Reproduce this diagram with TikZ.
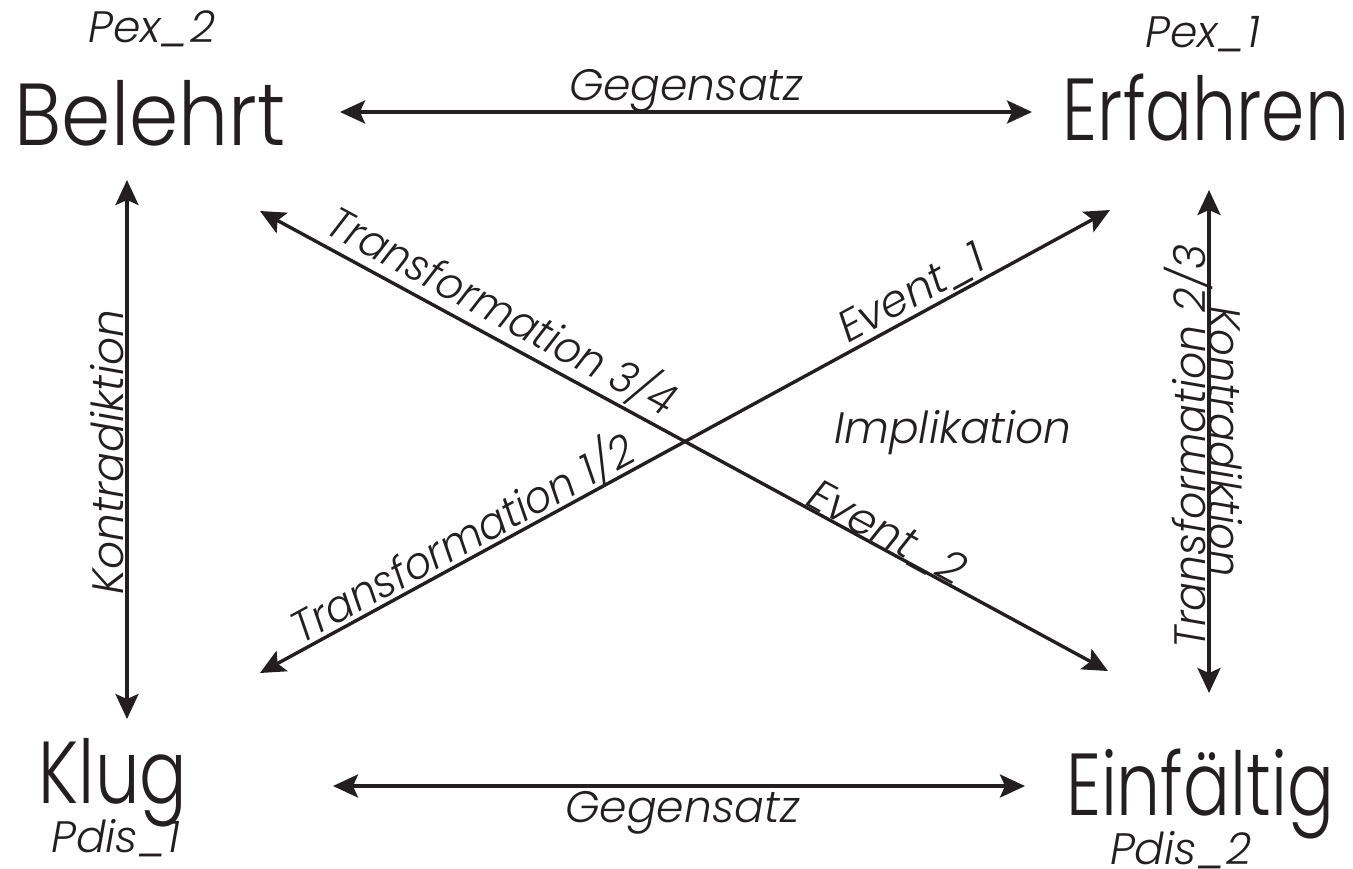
\documentclass[tikz,border=0pt]{standalone}
\usepackage{fontspec}
\setmainfont{Poppins}[UprightFont={* Light},ItalicFont={* Light Italic}]
\usetikzlibrary{arrows.meta}
\definecolor{ink}{HTML}{231F20}
\begin{document}
\begin{tikzpicture}[x=0.5pt,y=-0.5pt,
  big/.style={font=\fontsize{44}{44}\selectfont, text=ink, inner sep=0pt, anchor=base},
  sub/.style={font=\fontsize{22}{22}\selectfont\itshape, text=ink, inner sep=0pt, anchor=base},
  lab/.style={font=\fontsize{22}{22}\selectfont\itshape, text=ink, inner sep=0pt, text depth=0pt, sloped},
  tip/.style={Stealth[length=12.5pt,width=11.5pt,inset=2.5pt]},
  arr/.style={draw=ink, line width=1.7pt, {Stealth[length=12.5pt,width=11.5pt,inset=2.5pt]}-{Stealth[length=12.5pt,width=11.5pt,inset=2.5pt]}}]
\useasboundingbox (0,0) rectangle (1353,868);
% corner nodes
\node[big, xscale=0.9] (B) at (150,145) {Belehrt};
\node[sub] (p2) at (152,42) {Pex\_2};
\node[big, xscale=0.79] (E) at (1206,140) {Erfahren};
\node[sub] (p1) at (1203,47) {Pex\_1};
\node[big, xscale=0.8] (K) at (113,803) {Klug};
\node[sub] (pd1) at (116,852) {Pdis\_1};
\node[big, xscale=0.79] (F) at (1200,815) {Einfältig};
\node[sub] (pd2) at (1181,864) {Pdis\_2};
\node[sub] (imp) at (953,443) {Implikation};
% connector ends
\coordinate (Bh) at (340,112);
\coordinate (Eh) at (1032,112);
\coordinate (Kh) at (333,786);
\coordinate (Fh) at (1025,786);
\coordinate (Bv) at (127,180);
\coordinate (Kv) at (127,719);
\coordinate (Ev) at (1209,190);
\coordinate (Fv) at (1209,693);
\coordinate (Bd) at (260,211);
\coordinate (Fd) at (1108,671);
\coordinate (Kd) at (260,673);
\coordinate (Ed) at (1110,210);
% connectors
\draw[arr] (Bh) -- node[lab, above=5pt] {Gegensatz} (Eh);
\draw[arr] (Kh) -- node[lab, pos=0.505, below=2pt] {Gegensatz} (Fh);
\draw[arr] (Kv) -- node[lab, pos=0.495, above=1pt] {Kontradiktion} (Bv);
\draw[arr] (Fv) -- node[lab, pos=0.49, above=1pt, xscale=0.97] {Transformation 2/3} (Ev);
\path (Ev) -- node[lab, pos=0.5, above=0pt, xscale=0.95] {Kontradiktion} (Fv);
\draw[arr] (Bd) -- node[lab, pos=0.27, above=5pt, xscale=0.93] {Transformation 3/4}
                   node[lab, pos=0.73, above=0pt] {Event\_2} (Fd);
\draw[arr] (Kd) -- node[lab, pos=0.25, above=2pt, xscale=0.95] {Transformation 1/2}
                   node[lab, pos=0.779, above=3pt] {Event\_1} (Ed);
\end{tikzpicture}
\end{document}
